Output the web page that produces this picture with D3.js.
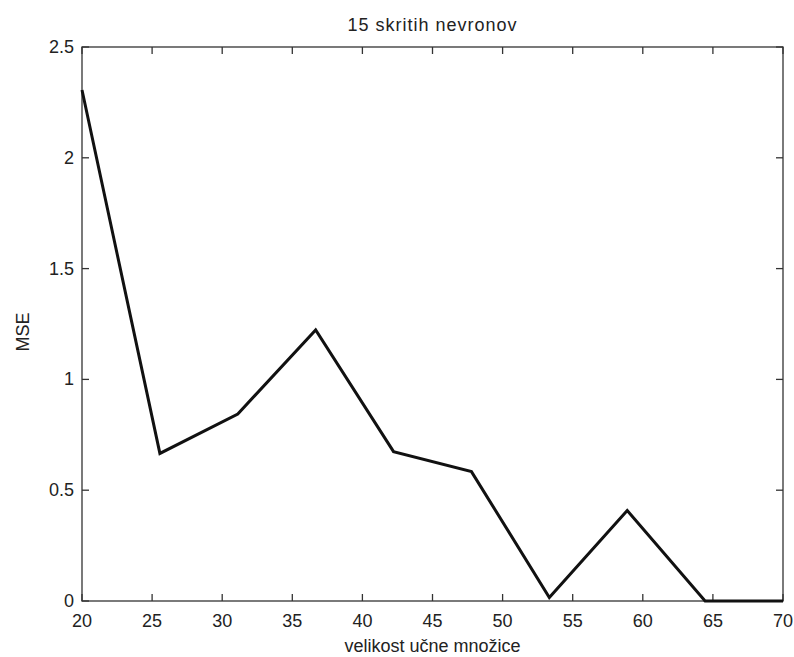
<!DOCTYPE html>
<html><head><meta charset="utf-8">
<script src="https://cdn.jsdelivr.net/npm/d3@7"></script>
<style>body{margin:0;background:#fff}text{font-family:"Liberation Sans",Arial,sans-serif;fill:#222}</style>
</head><body>
<svg id="c" width="794" height="657"></svg>
<script>
const xValues = [20, 25.556, 31.111, 36.667, 42.222, 47.778, 53.333, 58.889, 64.444, 70];
const mseValues = [2.306, 0.666, 0.844, 1.223, 0.674, 0.584, 0.016, 0.408, 0.0, 0.0];
const xTicks = [20, 25, 30, 35, 40, 45, 50, 55, 60, 65, 70];
const yTicks = [0, 0.5, 1, 1.5, 2, 2.5];
const title = "15 skritih nevronov";
const xLabel = "velikost učne množice";
const yLabel = "MSE";

const svg = d3.select("#c");
const L = 82, R = 783, T = 47, B = 601;
const x = d3.scaleLinear().domain([20, 70]).range([L, R]);
const y = d3.scaleLinear().domain([0, 2.5]).range([B, T]);
const fs = 18, axisColor = "#333";

// box
svg.append("rect").attr("x", L).attr("y", T).attr("width", R - L).attr("height", B - T)
  .attr("fill", "none").attr("stroke", axisColor).attr("stroke-width", 1.3);

// ticks
const tl = 7;
xTicks.forEach(t => {
  svg.append("line").attr("x1", x(t)).attr("x2", x(t)).attr("y1", B).attr("y2", B - tl).attr("stroke", axisColor).attr("stroke-width", 1.3);
  svg.append("line").attr("x1", x(t)).attr("x2", x(t)).attr("y1", T).attr("y2", T + tl).attr("stroke", axisColor).attr("stroke-width", 1.3);
  svg.append("text").attr("x", x(t)).attr("y", B + 26).attr("text-anchor", "middle").attr("font-size", fs).text(t);
});
yTicks.forEach(t => {
  svg.append("line").attr("x1", L).attr("x2", L + tl).attr("y1", y(t)).attr("y2", y(t)).attr("stroke", axisColor).attr("stroke-width", 1.3);
  svg.append("line").attr("x1", R).attr("x2", R - tl).attr("y1", y(t)).attr("y2", y(t)).attr("stroke", axisColor).attr("stroke-width", 1.3);
  svg.append("text").attr("x", L - 8).attr("y", y(t) + 6).attr("text-anchor", "end").attr("font-size", fs).text(t);
});

// line
const line = d3.line().x((d, i) => x(xValues[i])).y(d => y(d));
svg.append("path").datum(mseValues).attr("d", line).attr("fill", "none")
  .attr("stroke", "#111").attr("stroke-width", 3).attr("stroke-linejoin", "miter");

// labels
svg.append("text").attr("x", (L + R) / 2).attr("y", 31).attr("text-anchor", "middle").attr("font-size", 18).attr("letter-spacing", 1).text(title);
svg.append("text").attr("x", (L + R) / 2).attr("y", 652).attr("text-anchor", "middle").attr("font-size", fs).text(xLabel);
svg.append("text").attr("transform", `translate(29,${(T + B) / 2 + 8}) rotate(-90)`).attr("text-anchor", "middle").attr("font-size", fs).text(yLabel);
</script>
</body></html>
